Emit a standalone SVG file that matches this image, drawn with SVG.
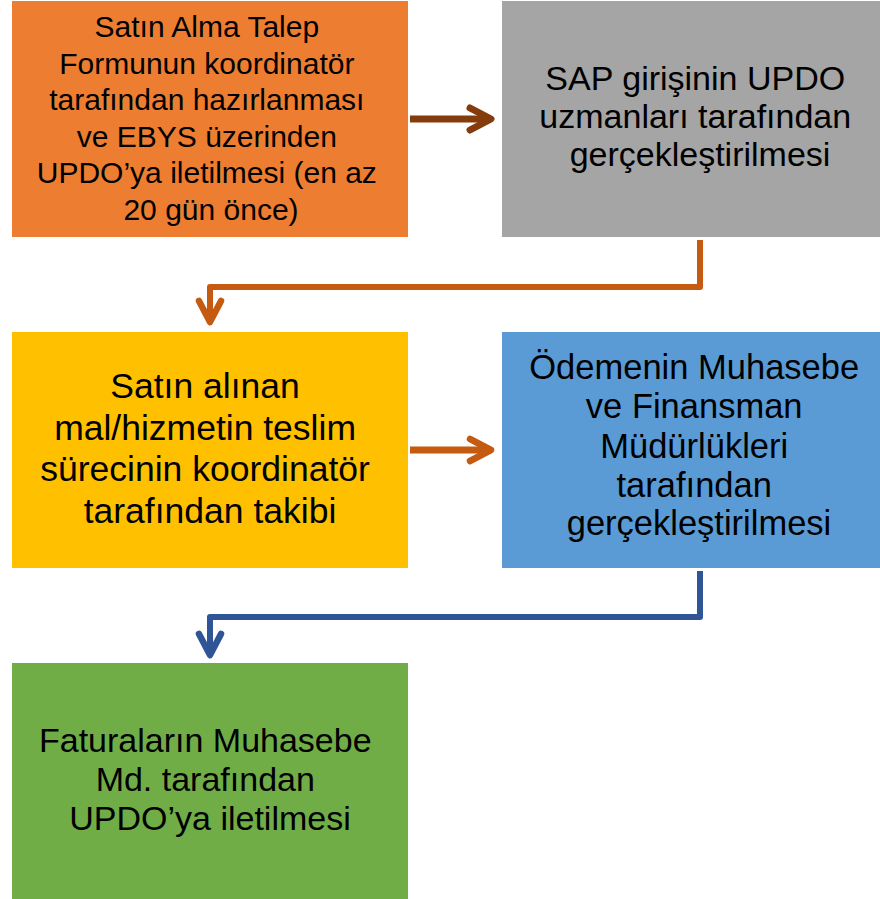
<svg xmlns="http://www.w3.org/2000/svg" width="880" height="899" viewBox="0 0 880 899">
<defs>
<style>
.box{stroke:none}
.t{font-family:"Liberation Sans",Arial,sans-serif;fill:#000;text-anchor:middle}
.c{fill:none;stroke-linejoin:round}
</style>
<marker id="mBrown" markerUnits="userSpaceOnUse" viewBox="-30 -20 40 40" markerWidth="40" markerHeight="40" refX="0" refY="0" orient="auto" overflow="visible">
<path d="M-21,-11 L0,0 L-21,11" fill="none" stroke="#843C0C" stroke-width="7" stroke-linecap="round" stroke-linejoin="round"/>
</marker>
<marker id="mOrange" markerUnits="userSpaceOnUse" viewBox="-30 -20 40 40" markerWidth="40" markerHeight="40" refX="0" refY="0" orient="auto" overflow="visible">
<path d="M-21,-11 L0,0 L-21,11" fill="none" stroke="#C55A11" stroke-width="6.5" stroke-linecap="round" stroke-linejoin="round"/>
</marker>
<marker id="mBlue" markerUnits="userSpaceOnUse" viewBox="-30 -20 40 40" markerWidth="40" markerHeight="40" refX="0" refY="0" orient="auto" overflow="visible">
<path d="M-21,-11 L0,0 L-21,11" fill="none" stroke="#2F5597" stroke-width="6.5" stroke-linecap="round" stroke-linejoin="round"/>
</marker>
</defs>
<rect width="880" height="899" fill="#ffffff"/>

<g id="n1">
<rect class="box" x="12" y="1" width="396" height="236" fill="#ED7D31"/>
<text class="t" font-size="30">
<tspan x="211" y="37">Satın Alma Talep</tspan>
<tspan x="211" y="73.6">Formunun koordinatör</tspan>
<tspan x="211" y="110">tarafından hazırlanması</tspan>
<tspan x="211" y="147">ve EBYS üzerinden</tspan>
<tspan x="211" y="183">UPDO’ya iletilmesi (en az</tspan>
<tspan x="211" y="220">20 gün önce)</tspan>
</text>
</g>

<g id="n2">
<rect class="box" x="502" y="1" width="378" height="236" fill="#A5A5A5"/>
<text class="t" font-size="34">
<tspan x="700" y="90">SAP girişinin UPDO</tspan>
<tspan x="700" y="128">uzmanları tarafından</tspan>
<tspan x="700" y="166">gerçekleştirilmesi</tspan>
</text>
</g>

<g id="n3">
<rect class="box" x="12" y="332" width="396" height="236" fill="#FFC000"/>
<text class="t" font-size="35.5">
<tspan x="210" y="398">Satın alınan</tspan>
<tspan x="210" y="440">mal/hizmetin teslim</tspan>
<tspan x="210" y="481">sürecinin koordinatör</tspan>
<tspan x="210" y="523">tarafından takibi</tspan>
</text>
</g>

<g id="n4">
<rect class="box" x="502" y="332" width="378" height="236" fill="#5B9BD5"/>
<text class="t" font-size="34.5">
<tspan x="699" y="379">Ödemenin Muhasebe</tspan>
<tspan x="699" y="418">ve Finansman</tspan>
<tspan x="699" y="458">Müdürlükleri</tspan>
<tspan x="699" y="497">tarafından</tspan>
<tspan x="699" y="535">gerçekleştirilmesi</tspan>
</text>
</g>

<g id="n5">
<rect class="box" x="12" y="663" width="396" height="236" fill="#70AD47"/>
<text class="t" font-size="34">
<tspan x="210" y="752">Faturaların Muhasebe</tspan>
<tspan x="210" y="791">Md. tarafından</tspan>
<tspan x="210" y="830">UPDO’ya iletilmesi</tspan>
</text>
</g>

<g id="connectors">
<path class="c" d="M410,119 L491,119" stroke="#843C0C" stroke-width="7" marker-end="url(#mBrown)"/>
<path class="c" d="M700,240 L700,287 L210,287 L210,322" stroke="#C55A11" stroke-width="6" marker-end="url(#mOrange)"/>
<path class="c" d="M410,450 L491,450" stroke="#C55A11" stroke-width="7" marker-end="url(#mOrange)"/>
<path class="c" d="M700,571 L700,617 L210,617 L210,655" stroke="#2F5597" stroke-width="6" marker-end="url(#mBlue)"/>
</g>
</svg>
